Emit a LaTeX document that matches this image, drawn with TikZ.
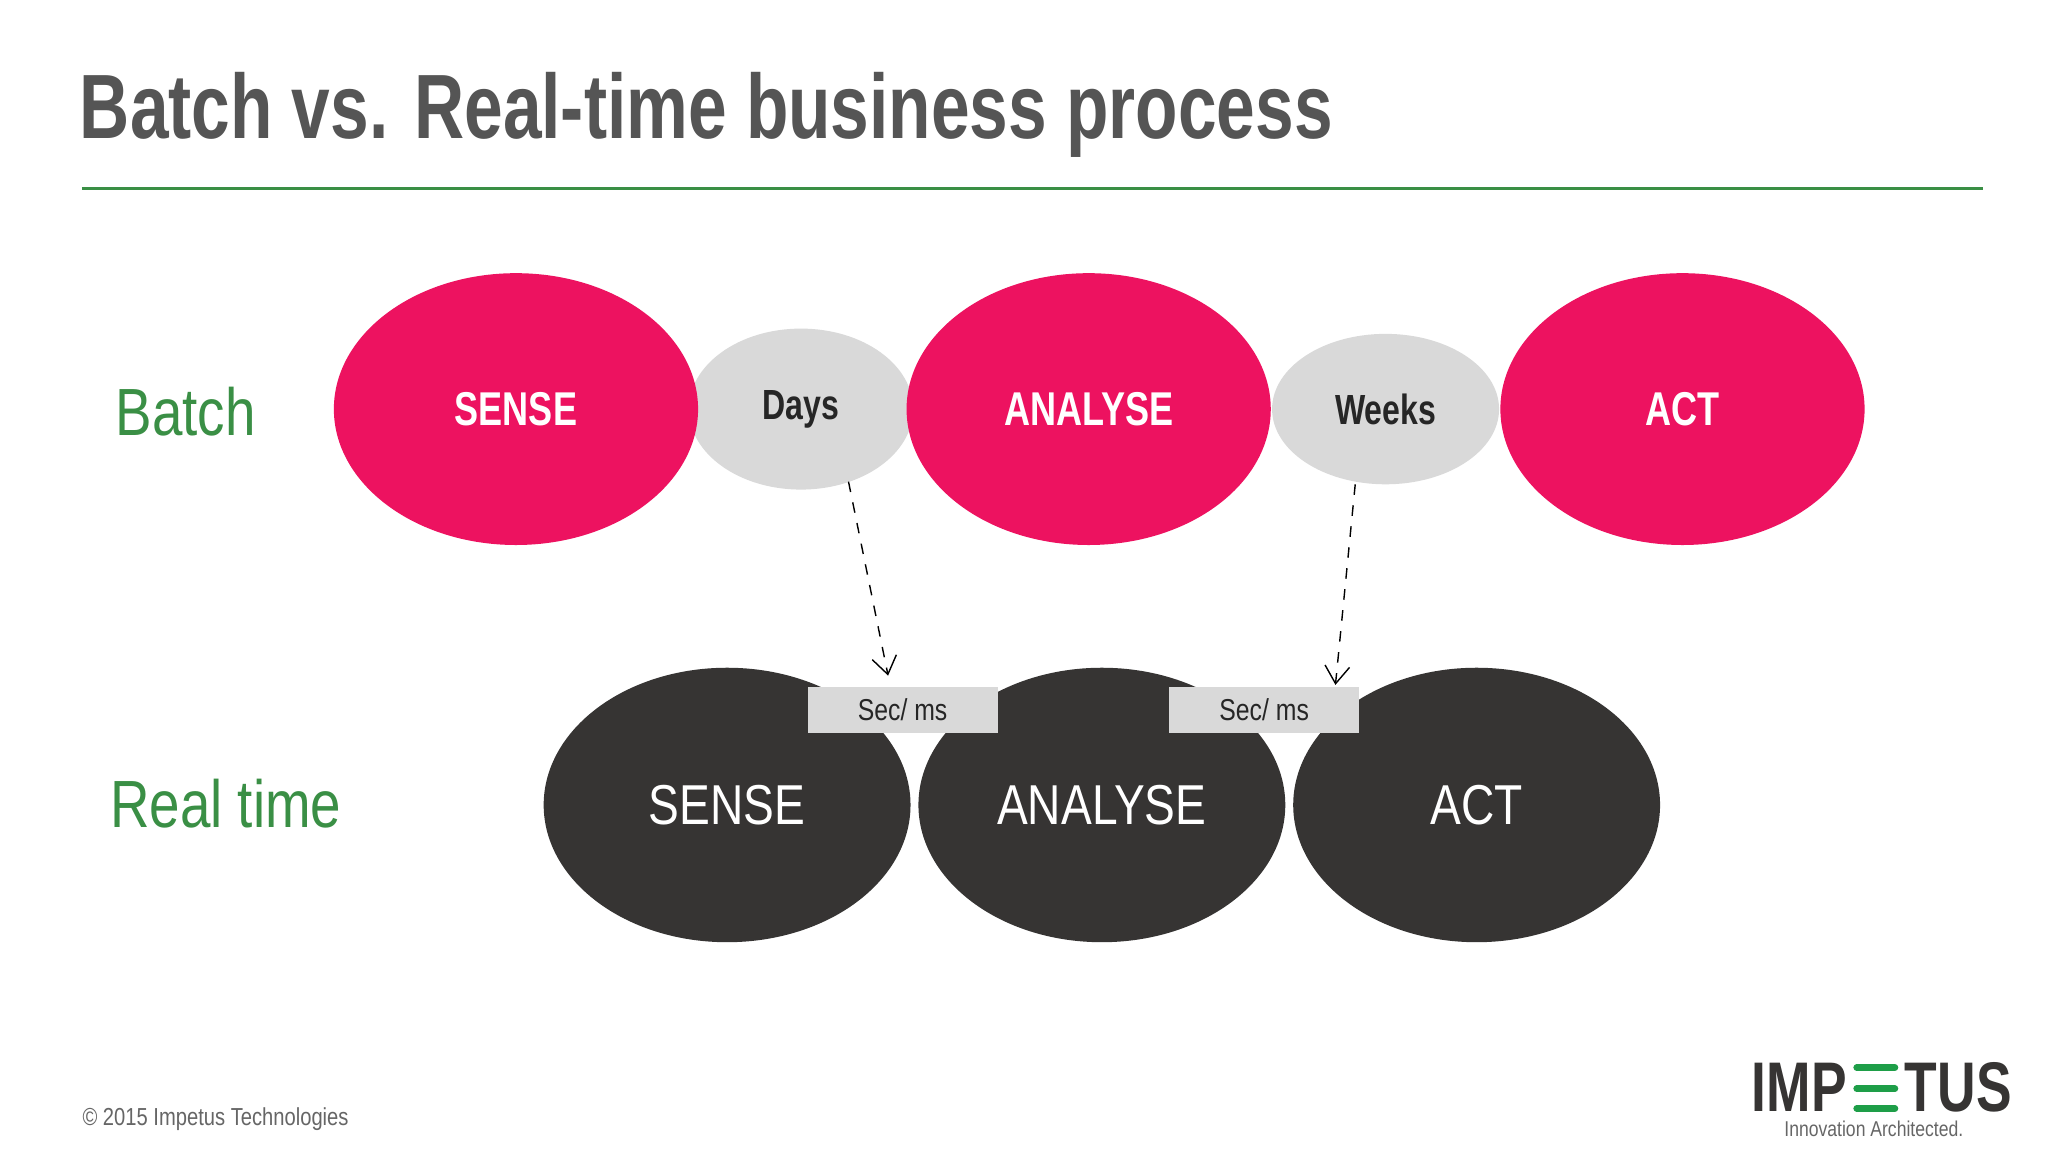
\documentclass[tikz,border=0pt]{standalone}
\usepackage{fontspec}
\setmainfont[FakeStretch=0.82,BoldFeatures={FakeStretch=0.76}]{Liberation Sans}
\usetikzlibrary{arrows.meta,shapes.geometric}
\definecolor{pinkc}{HTML}{ED1260}
\definecolor{darkc}{HTML}{363433}
\definecolor{grayc}{HTML}{D9D9D9}
\definecolor{greenc}{HTML}{3A8F45}
\definecolor{titlec}{HTML}{555555}
\definecolor{logog}{HTML}{1E9E48}
\newlength{\pxu}\setlength{\pxu}{0.0132cm}
\tikzset{
  pinkell/.style={ellipse,fill=pinkc,minimum width=276\pxu,minimum height=206\pxu,text=white,font=\fontsize{13.5}{16}\selectfont\bfseries,inner sep=0pt},
  darkell/.style={ellipse,fill=darkc,minimum width=278\pxu,minimum height=208\pxu,text=white,font=\fontsize{16}{19}\selectfont,inner sep=0pt},
  grayell/.style={ellipse,fill=grayc,text=black!85,font=\fontsize{12}{15}\selectfont\bfseries,inner sep=0pt},
  secbox/.style={rectangle,fill=grayc,minimum width=144\pxu,minimum height=35\pxu,inner sep=0pt,font=\fontsize{8.6}{10}\selectfont,text=black!85},
  dasharrow/.style={dashed,thin,-{Straight Barb[length=5pt,width=7pt]}},
  side/.style={anchor=west,text=greenc,font=\fontsize{19}{22}\selectfont,inner sep=0pt},
  ebar/.style={logog,line width=5\pxu,line cap=round}
}
\begin{document}
\begin{tikzpicture}[x=0.0132cm,y=-0.0132cm]
\useasboundingbox[fill=white] (0,0) rectangle (1552,873);
\node[anchor=base west,inner sep=0pt,text=titlec,font=\fontsize{26}{30}\selectfont\bfseries] (title) at (60,105) {Batch vs. Real-time business process};
\coordinate (l1) at (62,143); \coordinate (l2) at (1503,143);
\draw[greenc,line width=0.8pt] (l1) -- (l2);
\node[side] (batch) at (87,312) {Batch};
\node[side] (rt) at (83,609) {Real time};
% gray
\node[grayell,minimum width=170\pxu,minimum height=122\pxu] (days) at (607,310) {Days};
\node[grayell,minimum width=172\pxu,minimum height=114\pxu] (weeks) at (1050,310) {Weeks};
\node[pinkell] (s1) at (391,310) {SENSE};
\node[pinkell] (a1) at (825,310) {ANALYSE};
\node[pinkell] (c1) at (1275,310) {ACT};
% dark
\node[darkell] (s2) at (551,610) {SENSE};
\node[darkell] (a2) at (835,610) {ANALYSE};
\node[darkell] (c2) at (1119,610) {ACT};
\node[secbox] (m1) at (684,538) {Sec/ ms};
\node[secbox] (m2) at (958,538) {Sec/ ms};
\coordinate (d1s) at (643,365); \coordinate (d1e) at (673,512);
\coordinate (d2s) at (1027,367); \coordinate (d2e) at (1012,519);
\draw[dasharrow] (d1s) -- (d1e);
\draw[dasharrow] (d2s) -- (d2e);
\node[anchor=base west,inner sep=0pt,text=black!60,font=\fontsize{7}{8}\selectfont] (copy) at (62,853) {© 2015 Impetus Technologies};
% logo
\node[anchor=base east,inner sep=0pt,text=darkc,font=\fontsize{20}{22}\selectfont\bfseries] (imp) at (1400,842) {IMP};
\node[anchor=base west,inner sep=0pt,text=darkc,font=\fontsize{20}{22}\selectfont\bfseries] (tus) at (1443,842) {TUS};
\coordinate (e1a) at (1407,809); \coordinate (e1b) at (1436,809);
\coordinate (e2a) at (1407,825); \coordinate (e2b) at (1436,825);
\coordinate (e3a) at (1407,840); \coordinate (e3b) at (1436,840);
\draw[ebar] (e1a) -- (e1b); \draw[ebar] (e2a) -- (e2b); \draw[ebar] (e3a) -- (e3b);
\node[anchor=base,inner sep=0pt,text=black!60,font=\fontsize{6.1}{8}\selectfont] (tag) at (1420,861) {Innovation Architected.};
\end{tikzpicture}
\end{document}
